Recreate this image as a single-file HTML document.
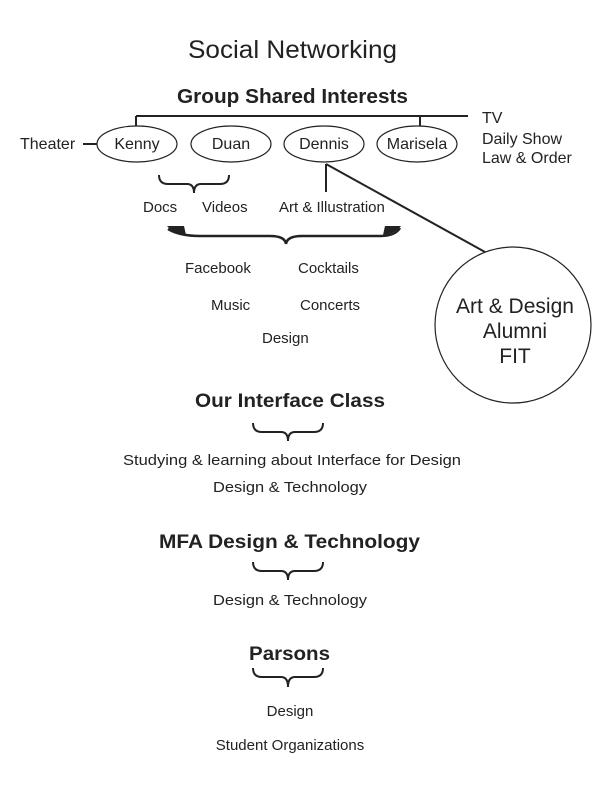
<!DOCTYPE html>
<html><head><meta charset="utf-8"><style>
html,body{margin:0;padding:0;background:#fff;}
svg{display:block;}
text{font-family:"Liberation Sans",Arial,sans-serif;fill:#222;}
.b{font-weight:bold;}
</style></head><body>
<svg width="612" height="792" viewBox="0 0 612 792" xmlns="http://www.w3.org/2000/svg">
<g stroke="#222" fill="none" stroke-width="1.2">
<!-- top bar -->
<line x1="136" y1="116" x2="468" y2="116" stroke-width="2"/>
<line x1="136" y1="116" x2="136" y2="126" stroke-width="2"/>
<line x1="420" y1="116" x2="420" y2="126" stroke-width="2"/>
<ellipse cx="137" cy="144" rx="40" ry="18"/>
<ellipse cx="231" cy="144" rx="40" ry="18"/>
<ellipse cx="324" cy="144" rx="40" ry="18"/>
<ellipse cx="417" cy="144" rx="40" ry="18"/>
<line x1="83" y1="144" x2="97" y2="144" stroke-width="2"/>
<!-- small brace -->
<path d="M159 175 Q159 184 168 184 L187 184 Q194 184 194 193 Q194 184 201 184 L220 184 Q229 184 229 175" stroke-width="2"/>
<!-- dennis lines -->
<line x1="326" y1="164" x2="326" y2="192" stroke-width="2"/>
<line x1="326" y1="164" x2="485" y2="252" stroke-width="2"/>
<circle cx="513" cy="325" r="78"/>
<!-- big brace -->
<path d="M168 229 Q180 236 200 236 L270 236 Q285 236 286 244 Q287 236 302 236 L380 236 Q395 236 400 228" stroke-width="2.5"/>
<path d="M167 226 L184 226 L186 235 Q174 234 167 226 Z" fill="#222" stroke="none"/>
<path d="M401 226 L385 226 L383 235 Q395 234 401 226 Z" fill="#222" stroke="none"/>
<!-- lower braces -->
<path d="M253 423 Q253 432 262 432 L281 432 Q288 432 288 441 Q288 432 295 432 L314 432 Q323 432 323 423" stroke-width="2"/>
<path d="M253 562 Q253 571 262 571 L281 571 Q288 571 288 580 Q288 571 295 571 L314 571 Q323 571 323 562" stroke-width="2"/>
<path d="M253 668 Q253 677 262 677 L281 677 Q288 677 288 687 Q288 677 295 677 L314 677 Q323 677 323 668" stroke-width="2"/>
</g>
<text x="188" y="58" font-size="25" textLength="209" lengthAdjust="spacingAndGlyphs">Social Networking</text>
<text class="b" x="177" y="103" font-size="20" textLength="231" lengthAdjust="spacingAndGlyphs">Group Shared Interests</text>
<text x="482" y="123" font-size="16">TV</text>
<text x="482" y="144" font-size="16">Daily Show</text>
<text x="482" y="163" font-size="16">Law &amp; Order</text>
<text x="20" y="149" font-size="16">Theater</text>
<g font-size="16" text-anchor="middle">
<text x="137" y="149">Kenny</text>
<text x="231" y="149">Duan</text>
<text x="324" y="149">Dennis</text>
<text x="417" y="149">Marisela</text>
</g>
<g font-size="15">
<text x="143" y="212">Docs</text>
<text x="202" y="212">Videos</text>
<text x="279" y="212">Art &amp; Illustration</text>
<text x="185" y="273">Facebook</text>
<text x="298" y="273">Cocktails</text>
<text x="211" y="310">Music</text>
<text x="300" y="310">Concerts</text>
<text x="262" y="343">Design</text>
</g>
<g font-size="21" text-anchor="middle">
<text x="515" y="313">Art &amp; Design</text>
<text x="515" y="338">Alumni</text>
<text x="515" y="363">FIT</text>
</g>
<text class="b" x="195" y="407" font-size="19" textLength="190" lengthAdjust="spacingAndGlyphs">Our Interface Class</text>
<text x="123" y="465" font-size="15" textLength="338" lengthAdjust="spacingAndGlyphs">Studying &amp; learning about Interface for Design</text>
<text x="213" y="492" font-size="15" textLength="154" lengthAdjust="spacingAndGlyphs">Design &amp; Technology</text>
<text class="b" x="159" y="548" font-size="19" textLength="261" lengthAdjust="spacingAndGlyphs">MFA Design &amp; Technology</text>
<text x="213" y="605" font-size="15" textLength="154" lengthAdjust="spacingAndGlyphs">Design &amp; Technology</text>
<text class="b" x="249" y="660" font-size="19" textLength="81" lengthAdjust="spacingAndGlyphs">Parsons</text>
<text x="290" y="716" font-size="15" text-anchor="middle">Design</text>
<text x="290" y="750" font-size="15" text-anchor="middle">Student Organizations</text>
</svg>
</body></html>
